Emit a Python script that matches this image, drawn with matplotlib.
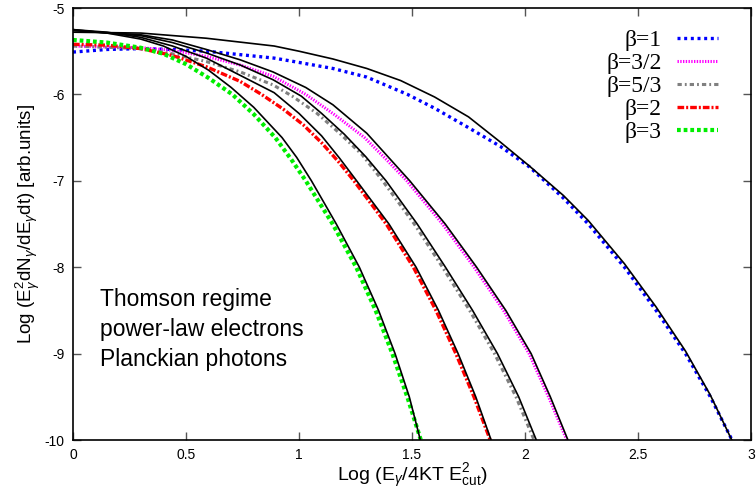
import matplotlib
matplotlib.use("Agg")
import matplotlib.pyplot as plt

plt.rcParams['font.family'] = ['Liberation Sans', 'DejaVu Sans']
plt.rcParams['axes.unicode_minus'] = False
plt.rcParams['mathtext.fontset'] = 'custom'
plt.rcParams['mathtext.rm'] = 'Liberation Sans'
plt.rcParams['mathtext.it'] = 'Liberation Sans:italic'

# --- valores ---
# beta = 1 (datos y curva negra)
x_b1 = [0, 0.15, 0.30, 0.44, 0.59, 0.74, 0.89, 1.00, 1.15, 1.30, 1.48, 1.60, 1.74, 1.89, 2.02, 2.17, 2.28, 2.44, 2.58, 2.71, 2.82, 2.916]
y_b1 = [-5.51, -5.48, -5.47, -5.48, -5.50, -5.54, -5.58, -5.63, -5.70, -5.80, -6.00, -6.16, -6.37, -6.60, -6.84, -7.20, -7.50, -8.00, -8.50, -9.00, -9.50, -10.0]
xm_b1 = [0, 0.30, 0.59, 0.89, 1.00, 1.15, 1.30, 1.45, 1.60, 1.75, 1.89, 2.02, 2.17, 2.28, 2.44, 2.58, 2.71, 2.82, 2.915]
ym_b1 = [-5.28, -5.29, -5.35, -5.44, -5.50, -5.59, -5.70, -5.84, -6.03, -6.26, -6.55, -6.83, -7.17, -7.46, -7.96, -8.46, -8.97, -9.48, -10.0]

# beta = 3/2
x_b32 = [0, 0.30, 0.44, 0.59, 0.74, 0.885, 1.03, 1.16, 1.29, 1.385, 1.477, 1.635, 1.775, 1.905, 2.018, 2.104, 2.185]
y_b32 = [-5.44, -5.46, -5.49, -5.56, -5.66, -5.79, -6.00, -6.24, -6.50, -6.75, -7.00, -7.50, -8.00, -8.50, -9.00, -9.50, -10.0]
xm_b32 = [0, 0.30, 0.44, 0.59, 0.74, 0.885, 1.03, 1.15, 1.30, 1.49, 1.647, 1.786, 1.915, 2.027, 2.112, 2.19]
ym_b32 = [-5.26, -5.31, -5.37, -5.48, -5.60, -5.74, -5.92, -6.12, -6.45, -7.00, -7.50, -8.00, -8.50, -9.00, -9.50, -10.0]

# beta = 5/3
x_b53 = [0, 0.30, 0.44, 0.59, 0.74, 0.885, 0.97, 1.08, 1.18, 1.28, 1.37, 1.51, 1.635, 1.755, 1.865, 1.96, 2.04]
y_b53 = [-5.44, -5.47, -5.53, -5.62, -5.74, -5.89, -6.02, -6.22, -6.45, -6.70, -7.00, -7.50, -8.00, -8.50, -9.00, -9.50, -10.0]
xm_b53 = [0, 0.30, 0.44, 0.59, 0.74, 0.885, 1.01, 1.10, 1.20, 1.295, 1.385, 1.523, 1.648, 1.768, 1.878, 1.972, 2.05]
ym_b53 = [-5.26, -5.32, -5.40, -5.52, -5.66, -5.83, -6.02, -6.22, -6.46, -6.72, -7.00, -7.50, -8.00, -8.50, -9.00, -9.50, -10.0]

# beta = 2
x_b2 = [0, 0.15, 0.30, 0.44, 0.59, 0.74, 0.834, 0.93, 1.018, 1.10, 1.175, 1.243, 1.386, 1.506, 1.606, 1.694, 1.774, 1.846]
y_b2 = [-5.42, -5.43, -5.47, -5.55, -5.68, -5.85, -6.00, -6.17, -6.35, -6.56, -6.78, -7.00, -7.50, -8.00, -8.50, -9.00, -9.50, -10.0]
xm_b2 = [0, 0.15, 0.30, 0.44, 0.59, 0.74, 0.89, 1.00, 1.10, 1.18, 1.255, 1.398, 1.518, 1.617, 1.704, 1.782, 1.850]
ym_b2 = [-5.25, -5.28, -5.34, -5.44, -5.58, -5.78, -5.98, -6.22, -6.48, -6.74, -7.00, -7.50, -8.00, -8.50, -9.00, -9.50, -10.0]

# beta = 3
x_b3 = [0, 0.15, 0.30, 0.40, 0.50, 0.60, 0.705, 0.80, 0.895, 0.965, 1.03, 1.149, 1.253, 1.339, 1.413, 1.479, 1.539]
y_b3 = [-5.37, -5.40, -5.46, -5.53, -5.65, -5.81, -6.00, -6.23, -6.50, -6.75, -7.00, -7.50, -8.00, -8.50, -9.00, -9.50, -10.0]
xm_b3 = [0, 0.15, 0.30, 0.40, 0.50, 0.60, 0.70, 0.80, 0.925, 0.99, 1.055, 1.165, 1.267, 1.352, 1.425, 1.488, 1.537]
ym_b3 = [-5.25, -5.29, -5.36, -5.44, -5.56, -5.72, -5.92, -6.15, -6.50, -6.73, -7.00, -7.50, -8.00, -8.50, -9.00, -9.50, -10.0]

etiquetas = ['β=1', 'β=3/2', 'β=5/3', 'β=2', 'β=3']
colores = ['#0000ff', '#ff00ff', '#808080', '#ff0000', '#00ee00']
xticks = [0, 0.5, 1, 1.5, 2, 2.5, 3]
xtick_labels = ['0', '0.5', '1', '1.5', '2', '2.5', '3']
yticks = [-10, -9, -8, -7, -6, -5]

datos = [(x_b1, y_b1), (x_b32, y_b32), (x_b53, y_b53), (x_b2, y_b2), (x_b3, y_b3)]
modelos = [(xm_b1, ym_b1), (xm_b32, ym_b32), (xm_b53, ym_b53), (xm_b2, ym_b2), (xm_b3, ym_b3)]

# estilos de linea tipo gnuplot
estilos = [
    dict(lw=2.4, dashes=(0.9, 1.1)),
    dict(lw=2.2, dashes=(0.45, 0.45)),
    dict(lw=2.2, dashes=(1.4, 1.0, 0.6, 1.0)),
    dict(lw=2.4, dashes=(2.0, 0.6, 0.6, 0.6)),
    dict(lw=3.0, dashes=(0.9, 0.7)),
]

fig = plt.figure(figsize=(7.56, 4.9), dpi=100)
ax = fig.add_axes([73 / 756, 50 / 490, 678 / 756, 432 / 490])

for (xd, yd), c, lab, st in zip(datos, colores, etiquetas, estilos):
    ax.plot(xd, yd, color=c, label=lab, solid_capstyle='butt', dash_capstyle='butt',
            solid_joinstyle='round', **st)
for xm, ym in modelos:
    ax.plot(xm, ym, color='black', lw=1.2, solid_joinstyle='round')

ax.set_xlim(0, 3)
ax.set_ylim(-10, -5)
ax.set_xticks(xticks)
ax.set_xticklabels(xtick_labels)
ax.set_yticks(yticks)
ax.tick_params(direction='in', top=True, right=True, length=6, width=1,
               color='#555555', labelsize=10, pad=6)
for s in ax.spines.values():
    s.set_linewidth(1.2)

ax.set_xlabel(r'Log (E$_\gamma$/4KT E$^2_{\rm cut}$)', fontsize=14, labelpad=0)
ax.set_ylabel(r'Log (E$^2_\gamma$dN$_\gamma$/dE$_\gamma$dt) [arb.units]', fontsize=13.5, labelpad=2)

ax.text(0.12, -8.235, 'Thomson regime\npower-law electrons\nPlanckian photons',
        fontsize=16.5, va='top', ha='left', linespacing=1.4)

leg = ax.legend(loc='upper right', bbox_to_anchor=(0.951, 0.950), frameon=False,
                markerfirst=False, handlelength=1.74, handletextpad=0.64,
                labelspacing=0.065, borderaxespad=0, borderpad=0,
                prop={'family': 'Liberation Serif', 'size': 17})

plt.savefig('out.png', dpi=100)
